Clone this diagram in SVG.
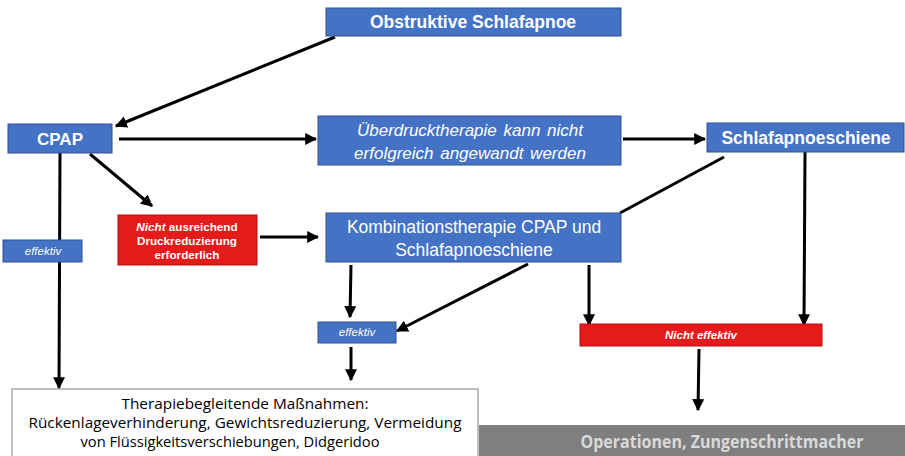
<svg xmlns="http://www.w3.org/2000/svg" width="905" height="456" viewBox="0 0 905 456">
<defs>
<marker id="ah" viewBox="0 0 10 10" refX="9" refY="5" markerWidth="4" markerHeight="4" markerUnits="strokeWidth" orient="auto">
<path d="M0,0 L10,5 L0,10 z" fill="#000"/>
</marker>
<style>
.blue{fill:#4472C4;stroke:#2F528F;stroke-width:1}
.red{fill:#E31B1B;stroke:#B01010;stroke-width:1}
.gray{fill:#7F7F7F;stroke:none}
.white{fill:#fff;stroke:#7F7F7F;stroke-width:1}
.t{font-family:"Liberation Sans",Arial,sans-serif;fill:#fff;text-anchor:middle}
.b{font-weight:bold}
.i{font-style:italic}
.c{font-family:"Open Sans","Noto Sans",sans-serif;fill:#000;text-anchor:middle}
.con{stroke:#000;stroke-width:3;fill:none}
.arr{marker-end:url(#ah)}
</style>
</defs>
<rect width="905" height="456" fill="#fff"/>
<g id="connectors">
<line class="con arr" x1="335" y1="37" x2="116" y2="126"/>
<line class="con arr" x1="119" y1="139" x2="316" y2="139"/>
<line class="con arr" x1="90" y1="154" x2="152" y2="206"/>
<line class="con arr" x1="260" y1="237" x2="318" y2="237"/>
<line class="con arr" x1="623" y1="139" x2="705" y2="139"/>
<line class="con" x1="724" y1="157" x2="620" y2="213"/>
<line class="con arr" x1="60" y1="153" x2="59" y2="388"/>
<line class="con arr" x1="351" y1="265" x2="350" y2="317"/>
<line class="con arr" x1="351" y1="347" x2="351" y2="380"/>
<line class="con arr" x1="528" y1="264" x2="397" y2="331"/>
<line class="con arr" x1="589" y1="265" x2="589" y2="325"/>
<line class="con arr" x1="805" y1="152" x2="804" y2="325"/>
<line class="con arr" x1="699" y1="349" x2="698" y2="410"/>
</g>
<g id="obstruktive">
<rect class="blue" x="326" y="8" width="295" height="28"/>
<text class="t b" x="473" y="28" font-size="17.5">Obstruktive Schlafapnoe</text>
</g>
<g id="cpap">
<rect class="blue" x="8" y="124" width="104" height="29"/>
<text class="t b" x="60" y="145" font-size="17">CPAP</text>
</g>
<g id="ueberdruck">
<rect class="blue" x="318" y="116" width="303" height="49"/>
<text class="t i" x="470" y="136" font-size="17" word-spacing="2">Überdrucktherapie kann nicht</text>
<text class="t i" x="470" y="159" font-size="17" word-spacing="2">erfolgreich angewandt werden</text>
</g>
<g id="schiene">
<rect class="blue" x="707" y="123" width="197" height="29"/>
<text class="t b" x="806" y="144" font-size="17.5">Schlafapnoeschiene</text>
</g>
<g id="nichtausreichend">
<rect class="red" x="118" y="215" width="139" height="50"/>
<text class="t b" x="187" y="231" font-size="11.7"><tspan font-style="italic">Nicht</tspan> ausreichend</text>
<text class="t b" x="187" y="245" font-size="11.7">Druckreduzierung</text>
<text class="t b" x="187" y="259" font-size="11.7">erforderlich</text>
</g>
<g id="kombination">
<rect class="blue" x="326" y="213" width="295" height="49"/>
<text class="t" x="474" y="233" font-size="17.5">Kombinationstherapie CPAP und</text>
<text class="t" x="474" y="256" font-size="17.5">Schlafapnoeschiene</text>
</g>
<g id="effektiv1">
<rect class="blue" x="3" y="240" width="79" height="22"/>
<text class="t i" x="43" y="255" font-size="11.5">effektiv</text>
</g>
<g id="effektiv2">
<rect class="blue" x="318" y="322" width="78" height="21"/>
<text class="t i" x="357" y="336" font-size="11.5">effektiv</text>
</g>
<g id="nichteffektiv">
<rect class="red" x="580" y="324" width="242" height="22"/>
<text class="t b i" x="701" y="339" font-size="11.5">Nicht effektiv</text>
</g>
<g id="therapiebegleitend">
<rect class="white" x="12" y="389" width="466" height="70"/>
<text class="c" x="245" y="409" font-size="15" textLength="247" lengthAdjust="spacingAndGlyphs">Therapiebegleitende Maßnahmen:</text>
<text class="c" x="245" y="428" font-size="15" textLength="433" lengthAdjust="spacingAndGlyphs">Rückenlageverhinderung, Gewichtsreduzierung, Vermeidung</text>
<text class="c" x="230" y="447" font-size="15" textLength="299" lengthAdjust="spacingAndGlyphs">von Flüssigkeitsverschiebungen, Didgeridoo</text>
</g>
<g id="operationen">
<rect class="gray" x="479" y="425" width="426" height="35"/>
<text x="722" y="448" font-family="'Open Sans','Noto Sans',sans-serif" font-weight="bold" font-size="17" fill="#D9D9D9" text-anchor="middle" textLength="283" lengthAdjust="spacingAndGlyphs">Operationen, Zungenschrittmacher</text>
</g>
</svg>
